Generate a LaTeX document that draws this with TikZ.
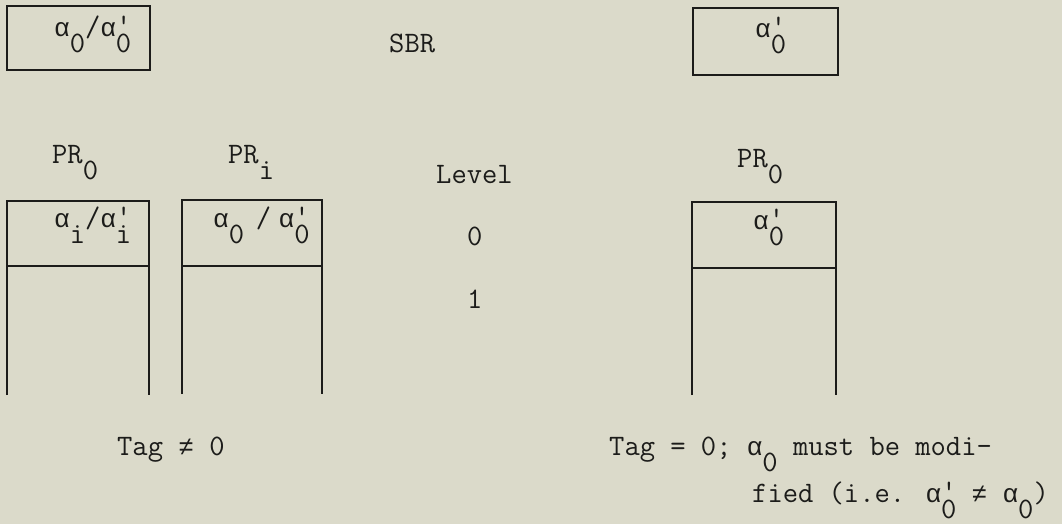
\documentclass[tikz,border=0pt]{standalone}
\usepackage{fontspec}
% Greek letters and the not-equal sign come from a monospace font that has them
\newfontfamily\grk{Liberation Mono}[Scale=0.875,Ligatures=TeXOff]
\newcommand\al{{\grk α}}
\newcommand\neqsign{{\grk ≠}}
% lowered subscript, one typewriter cell wide
\newcommand\lowsub[1]{\raisebox{-16pt}{#1}}
% prime typed over a lowered subscript in the same cell
\newcommand\primesub[1]{\makebox[0pt][l]{\makebox[0.525em]{\raisebox{2pt}{'}}}\raisebox{-16pt}{#1}}
\definecolor{paper}{RGB}{219,218,202}
\definecolor{ink}{RGB}{28,28,26}
\begin{document}
\begin{tikzpicture}[x=1pt,y=-1pt,
  txt/.style={anchor=base west,inner sep=0pt,text=ink,font=\ttfamily\fontsize{29.7}{34}\selectfont},
  rule/.style={draw=ink,line width=2.5pt,line cap=butt,line join=miter}]
\fill[paper] (0,0) rectangle (1062,524);
\useasboundingbox (0,0) rectangle (1062,524);

% SBR registers
\draw[rule] (7,6) rectangle (150,70);
\draw[rule] (693,8) rectangle (838,75);
\node[txt] (sbrl) at (54,37) {\al\lowsub{0}/\al\primesub{0}};
\node[txt] (sbr) at (389,53) {SBR};
\node[txt] (sbrr) at (755,38) {\al\primesub{0}};

% column headings
\node[txt] (hpr0) at (52,163) {PR\lowsub{0}};
\node[txt] (hpri) at (228,163) {PR\lowsub{i}};
\node[txt] (hlev) at (436,183) {Level};
\node[txt] (hprr) at (737,167) {PR\lowsub{0}};

% level numbers
\node[txt] (lev0) at (467,245) {0};
\node[txt] (lev1) at (467,308) {1};

% stacks, open at the bottom
\draw[rule] (7,395) -- (7,201) -- (149,201) -- (149,395);
\draw[rule] (7,266) -- (149,266);
\draw[rule] (182,394) -- (182,200) -- (322,200) -- (322,394);
\draw[rule] (182,266) -- (322,266);
\draw[rule] (692,395) -- (692,202) -- (836,202) -- (836,395);
\draw[rule] (692,268) -- (836,268);

% level-0 entries
\node[txt] (c0) at (54,227) {\al\lowsub{i}/\al\primesub{i}};
\node[txt] (ci) at (213,227) {\al\lowsub{0}\hspace{0.4em}/\hspace{0.25em}\al\primesub{0}};
\node[txt] (cr) at (753,229) {\al\primesub{0}};

% captions
\node[txt] (capl) at (117,455) {Tag \neqsign{} 0};
\node[txt] (capr1) at (609,455) {Tag = 0; \al\lowsub{0} must be modi-};
\node[txt] (capr2) at (752,502) {fied (i.e. \al\primesub{0} \neqsign{} \al\lowsub{0})};
\end{tikzpicture}
\end{document}
